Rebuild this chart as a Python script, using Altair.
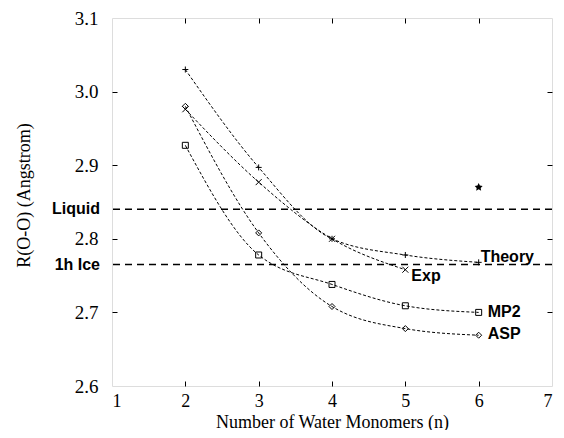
import altair as alt
import pandas as pd

# ---- data ----
n_all = [2, 3, 4, 5, 6]
theory = [3.03, 2.897, 2.80, 2.778, 2.768]
exp_n = [2, 3, 4, 5]
exp_vals = [2.976, 2.877, 2.80, 2.758]
mp2 = [2.927, 2.778, 2.738, 2.709, 2.70]
asp = [2.98, 2.808, 2.708, 2.678, 2.669]

liquid_r = 2.84
ice_r = 2.765
star_n = [6]
star_r = [2.87]

x_ticks = [1, 2, 3, 4, 5, 6, 7]
y_ticks = [2.6, 2.7, 2.8, 2.9, 3.0, 3.1]

rows = []
for s, xs, ys in [("Theory", n_all, theory), ("Exp", exp_n, exp_vals),
                  ("MP2", n_all, mp2), ("ASP", n_all, asp)]:
    for a, b in zip(xs, ys):
        rows.append({"series": s, "n": a, "r": b})
df = pd.DataFrame(rows)

hlines = pd.DataFrame({"name": ["Liquid", "1h Ice"], "r": [liquid_r, ice_r], "n": [1, 1]})
star_df = pd.DataFrame({"n": star_n, "r": star_r})

label_names = ["Theory", "Exp", "MP2", "ASP"]
label_n = [6, 5, 6, 6]
label_r = [2.775, 2.749, 2.70, 2.671]
series_labels = pd.DataFrame({"label": label_names, "n": label_n, "r": label_r})

W, H = 440, 368

xs_ = alt.Scale(domain=[1, 7], nice=False, zero=False)
ys_ = alt.Scale(domain=[2.6, 3.1], nice=False, zero=False)

SERIF = "Liberation Serif"
SANS = "Liberation Sans"

ax_x_lab = alt.Axis(orient="bottom", values=x_ticks, format="d", ticks=False, domain=False,
                    grid=False, labelFont=SERIF, labelFontSize=18, labelColor="black",
                    labelPadding=6, title="Number of Water Monomers (n)", titleFont=SERIF,
                    titleFontSize=18, titleFontWeight="normal", titleColor="black",
                    titleX=W / 2, titleY=41, titleBaseline="alphabetic", titleAlign="center")
ax_y_lab = alt.Axis(orient="left", values=y_ticks, format=".1f", ticks=False, domain=False,
                    grid=False, labelFont=SERIF, labelFontSize=19, labelColor="black",
                    labelPadding=14, title="R(O-O) (Angstrom)", titleFont=SERIF,
                    titleFontSize=18, titleFontWeight="normal", titleColor="black",
                    titleX=-88, titleY=177, titleAngle=-90, titleBaseline="middle",
                    titleAlign="center")

def tick_axis(orient, vals):
    return alt.Axis(orient=orient, values=vals, labels=False, domain=False, grid=False,
                    ticks=True, tickSize=5, offset=-5, tickColor="black", tickWidth=1)

shape_paths = {
    "Theory": "M-1,0L1,0M0,-1L0,1",
    "Exp": "M-1,-1L1,1M-1,1L1,-1",
    "MP2": "square",
    "ASP": "diamond",
}

lines = alt.Chart(df).mark_line(interpolate="monotone", strokeDash=[3, 2], strokeWidth=1,
                                color="black").encode(
    x=alt.X("n:Q", scale=xs_, axis=ax_x_lab),
    y=alt.Y("r:Q", scale=ys_, axis=ax_y_lab),
    detail="series:N",
)

points = alt.Chart(df).mark_point(filled=False, strokeWidth=1, color="black", size=36,
                                  opacity=1).encode(
    x=alt.X("n:Q", scale=xs_, axis=tick_axis("bottom", [2, 3, 4, 5, 6]), title=None),
    y=alt.Y("r:Q", scale=ys_, axis=tick_axis("left", [2.7, 2.8, 2.9, 3.0]), title=None),
    shape=alt.Shape("series:N", scale=alt.Scale(domain=list(shape_paths.keys()),
                                                range=list(shape_paths.values())),
                    legend=None),
)

star_path = "M0,-1L0.29,-0.4L0.95,-0.31L0.48,0.15L0.59,0.81L0,0.5L-0.59,0.81L-0.48,0.15L-0.95,-0.31L-0.29,-0.4Z"
star = alt.Chart(star_df).mark_point(shape=star_path, filled=True, color="black", size=70,
                                     opacity=1).encode(
    x=alt.X("n:Q", scale=xs_, axis=tick_axis("top", [2, 3, 4, 5, 6]), title=None),
    y=alt.Y("r:Q", scale=ys_, axis=tick_axis("right", [2.7, 2.8, 2.9, 3.0]), title=None),
)

rules = alt.Chart(hlines).mark_rule(strokeDash=[7, 5], strokeWidth=1.5, color="black").encode(
    y=alt.Y("r:Q", scale=ys_, axis=None),
)

hl_text = alt.Chart(hlines).mark_text(font=SANS, fontSize=16, fontWeight="bold", align="right",
                                      baseline="middle", dx=-12, color="black").encode(
    x=alt.X("n:Q", scale=xs_, axis=None),
    y=alt.Y("r:Q", scale=ys_, axis=None),
    text="name:N",
)

def series_text(names, dx):
    return alt.Chart(series_labels).transform_filter(
        alt.FieldOneOfPredicate(field="label", oneOf=names)
    ).mark_text(font=SANS, fontSize=16, fontWeight="bold", align="left", baseline="middle",
                color="black", dx=dx).encode(
        x=alt.X("n:Q", scale=xs_, axis=None),
        y=alt.Y("r:Q", scale=ys_, axis=None),
        text="label:N",
    )

t_theory = series_text(["Theory"], 2)
t_exp = series_text(["Exp"], 6)
t_right = series_text(["MP2", "ASP"], 9)

chart = alt.layer(lines, points, star, rules, hl_text, t_theory, t_exp, t_right).resolve_axis(
    x="independent", y="independent"
).properties(
    width=W, height=H,
    autosize=alt.AutoSizeParams(type="none"),
    padding={"left": 104, "top": 10, "right": 4, "bottom": 44},
).configure_view(stroke="black", strokeWidth=1.2).configure(background="white")

chart.save("out.html", embed_options={"renderer": "svg", "actions": False})
